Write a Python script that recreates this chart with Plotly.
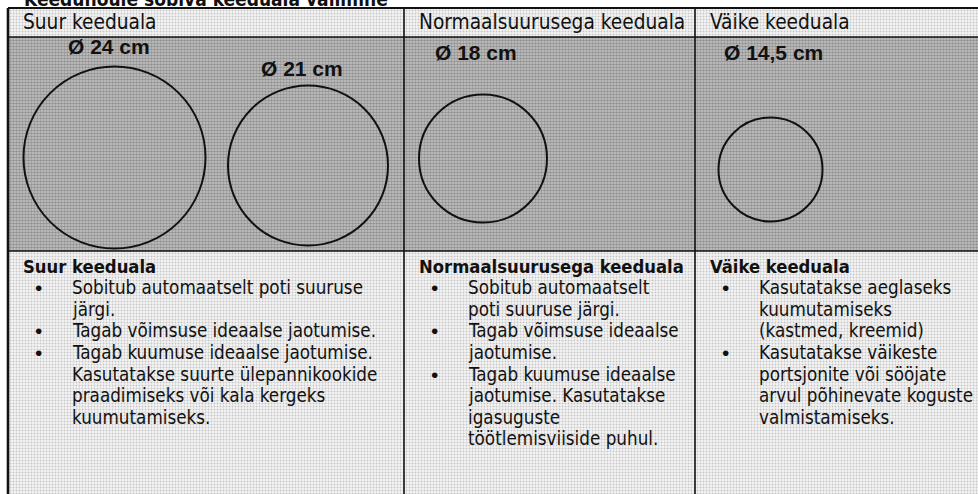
import plotly.graph_objects as go

# ---------------- data ----------------
title = "Keedunõule sobiva keeduala valimine"
zones = ["Suur keeduala", "Normaalsuurusega keeduala", "Väike keeduala"]
diameters_cm = [24, 21, 18, 14.5]
bullets = [
    [
        ["Sobitub automaatselt poti suuruse", "järgi."],
        ["Tagab võimsuse ideaalse jaotumise."],
        ["Tagab kuumuse ideaalse jaotumise.", "Kasutatakse suurte ülepannikookide",
         "praadimiseks või kala kergeks", "kuumutamiseks."],
    ],
    [
        ["Sobitub automaatselt", "poti suuruse järgi."],
        ["Tagab võimsuse ideaalse", "jaotumise."],
        ["Tagab kuumuse ideaalse", "jaotumise. Kasutatakse", "igasuguste",
         "töötlemisviiside puhul."],
    ],
    [
        ["Kasutatakse aeglaseks", "kuumutamiseks", "(kastmed, kreemid)"],
        ["Kasutatakse väikeste", "portsjonite või sööjate",
         "arvul põhinevate koguste", "valmistamiseks."],
    ],
]

# ---------------- layout constants (pixels) ----------------
W, H = 978, 494
left, top = 8, 8
col_x = [8, 404, 695, 990]
row_y = [8, 37, 251, 500]
circle_cx = [114.5, 308, 483, 770.5]
circle_cy = [157.5, 165.5, 158.5, 169.5]
circle_r = [91, 80, 64, 52]
label_pos = [(109, 46), (302, 68), (476, 52), (773, 52)]
FONT = "DejaVu Sans Condensed, DejaVu Sans, sans-serif"
LINE_H = 21.6

fig = go.Figure()


def rect(x0, x1, y0, y1, bg, fg, size, solidity):
    fig.add_trace(go.Scatter(
        x=[x0, x1, x1, x0, x0], y=[y0, y0, y1, y1, y0], mode="lines",
        line=dict(width=0), fill="toself", fillcolor=bg,
        fillpattern=dict(shape=".", bgcolor=bg, fgcolor=fg, size=size, solidity=solidity),
        hoverinfo="skip", showlegend=False))


rect(left, W + 5, row_y[0], row_y[1], "#f4f4f4", "#9a9a9a", 3, 0.35)
rect(left, W + 5, row_y[1], row_y[2], "#c6c6c6", "#5e5e5e", 3, 0.55)
rect(left, W + 5, row_y[2], H + 5, "#f4f4f4", "#9a9a9a", 3, 0.35)

shapes = []
for y in row_y[:3]:
    shapes.append(dict(type="line", x0=left, x1=W + 5, y0=y, y1=y,
                       line=dict(color="#111", width=2 if y == top else 1.6)))
shapes.append(dict(type="line", x0=left, x1=left, y0=top, y1=H + 5,
                   line=dict(color="#111", width=2.6)))
for x in col_x[1:3]:
    shapes.append(dict(type="line", x0=x, x1=x, y0=top, y1=H + 5,
                       line=dict(color="#111", width=1.6)))
for cx, cy, r in zip(circle_cx, circle_cy, circle_r):
    shapes.append(dict(type="circle", x0=cx - r, x1=cx + r, y0=cy - r, y1=cy + r,
                       line=dict(color="#111", width=2)))

ann = []
# title, partially cut off by the top edge as in the reference
ann.append(dict(x=22 / W, y=1 + 1.0 / H, xref="paper", yref="paper",
                text="<b>" + title + "</b>", xanchor="left", yanchor="middle",
                showarrow=False, font=dict(family=FONT, size=19, color="#111")))
for i, z in enumerate(zones):
    ann.append(dict(x=col_x[i] + 13, y=22, text=z, xanchor="left", yanchor="middle",
                    showarrow=False, font=dict(family=FONT, size=20.7, color="#111")))
for d, (lx, ly) in zip(diameters_cm, label_pos):
    txt = "Ø " + (str(d).replace(".", ",") if d != int(d) else str(int(d))) + " cm"
    ann.append(dict(x=lx, y=ly, text="<b>" + txt + "</b>", xanchor="center", yanchor="middle",
                    showarrow=False, font=dict(family="Liberation Sans, Arial, sans-serif",
                                               size=21, color="#111")))
for i, z in enumerate(zones):
    y = 266
    ann.append(dict(x=col_x[i] + 13, y=y, text="<b>" + z + "</b>", xanchor="left",
                    yanchor="middle", showarrow=False,
                    font=dict(family=FONT, size=18.3, color="#111")))
    for b in bullets[i]:
        y += LINE_H
        ann.append(dict(x=col_x[i] + 30, y=y, text="•", xanchor="center", yanchor="middle",
                        showarrow=False, font=dict(family="Liberation Sans", size=21, color="#111")))
        for k, line in enumerate(b):
            if k > 0:
                y += LINE_H
            ann.append(dict(x=col_x[i] + 62, y=y, text=line, xanchor="left", yanchor="middle",
                            showarrow=False, font=dict(family=FONT, size=18.7, color="#111")))

fig.update_layout(
    width=W, height=H, margin=dict(l=0, r=0, t=0, b=0),
    paper_bgcolor="white", plot_bgcolor="white",
    xaxis=dict(range=[0, W], visible=False, fixedrange=True),
    yaxis=dict(range=[H, 0], visible=False, fixedrange=True),
    shapes=shapes, annotations=ann, showlegend=False,
)
fig.write_html(
    "out.html",
    config={"displayModeBar": False},
    post_script="document.body.style.margin='0';document.body.style.overflow='hidden';",
)
